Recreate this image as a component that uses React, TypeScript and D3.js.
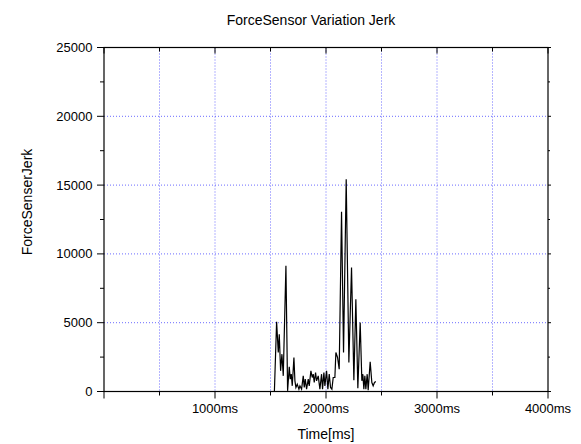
import React from "react";
import * as d3 from "d3";

const times: number[] = [
  1535, 1555, 1570, 1579, 1591, 1603, 1615, 1639, 1654, 1669, 1678, 1687, 1696, 1711, 1720, 1729,
  1741, 1756, 1765, 1780, 1795, 1804, 1813, 1825, 1840, 1849, 1864, 1876, 1885, 1894, 1906, 1915,
  1930, 1945, 1960, 1969, 1981, 1990, 2005, 2017, 2029, 2041, 2053, 2065, 2080, 2089, 2104, 2119,
  2140, 2158, 2182, 2206, 2230, 2251, 2269, 2287, 2308, 2323, 2332, 2341, 2350, 2359, 2371, 2380,
  2398, 2413, 2425, 2437, 2449,
];
const jerk: number[] = [
  0, 5062, 2834, 4166, 1502, 2713, 1138, 9131, 48, 1792, 896, 1259, 412, 2470, 775, 291,
  533, 170, 412, 170, 1138, 291, 896, 170, 896, 412, 1502, 1017, 1259, 654, 1380, 775,
  1138, 170, 1259, 170, 1380, 412, 1502, 170, 1259, 291, 170, 1017, 1017, 2834, 2470, 1622,
  13055, 2834, 15428, 2107, 9010, 823, 6709, 242, 5014, 775, 1259, 170, 1138, 170, 1259, 97,
  2156, 654, 412, 654, 727,
];

const xMajor: number[] = [0, 1000, 2000, 3000, 4000];
const xMinor: number[] = [500, 1500, 2500, 3500];
const xLabels: string[] = ["", "1000ms", "2000ms", "3000ms", "4000ms"];
const yMajor: number[] = [0, 5000, 10000, 15000, 20000, 25000];
const yMinor: number[] = [2500, 7500, 12500, 17500, 22500];
const xGrid: number[] = [500, 1000, 1500, 2000, 2500, 3000, 3500];
const yGrid: number[] = [5000, 10000, 15000, 20000];

const title = "ForceSensor Variation Jerk";
const xTitle = "Time[ms]";
const yTitle = "ForceSenserJerk";

export default function App() {
  const W = 581;
  const H = 444;
  const left = 104;
  const right = 548;
  const top = 47.5;
  const bottom = 391.5;
  const x = d3.scaleLinear().domain([0, 4000]).range([left, right]);
  const y = d3.scaleLinear().domain([0, 25000]).range([bottom, top]);
  const line = d3
    .line<number>()
    .x((_, i) => x(times[i]))
    .y((d) => y(d));
  const font = "'Liberation Sans', Arial, sans-serif";
  const gridStyle = { stroke: "#3a3aff", strokeWidth: 1, strokeDasharray: "1,2", opacity: 0.75 };

  return (
    <svg
      width={W}
      height={H}
      style={{ position: "absolute", left: 0, top: 0, background: "#fff" }}
      fontFamily={font}
    >
      <rect x={0} y={0} width={W} height={H} fill="#fff" />
      {xGrid.map((v) => (
        <line key={"gx" + v} x1={x(v)} x2={x(v)} y1={top} y2={bottom} {...gridStyle} />
      ))}
      {yGrid.map((v) => (
        <line key={"gy" + v} x1={left} x2={right} y1={y(v)} y2={y(v)} {...gridStyle} />
      ))}
      <path d={line(jerk) || ""} fill="none" stroke="#000" strokeWidth={1.2} strokeLinejoin="miter" />
      <rect x={left} y={top} width={right - left} height={bottom - top} fill="none" stroke="#000" strokeWidth={1.2} />
      {/* bottom ticks */}
      {xMajor.map((v) => (
        <line key={"xM" + v} x1={x(v)} x2={x(v)} y1={bottom} y2={bottom + 7} stroke="#000" />
      ))}
      {xMinor.map((v) => (
        <line key={"xm" + v} x1={x(v)} x2={x(v)} y1={bottom} y2={bottom + 4} stroke="#000" />
      ))}
      {/* top ticks inward */}
      {xMajor.map((v) => (
        <line key={"txM" + v} x1={x(v)} x2={x(v)} y1={top} y2={top + 6} stroke="#000" />
      ))}
      {xMinor.map((v) => (
        <line key={"txm" + v} x1={x(v)} x2={x(v)} y1={top} y2={top + 4} stroke="#000" />
      ))}
      {/* left ticks */}
      {yMajor.map((v) => (
        <line key={"yM" + v} x1={left - 7} x2={left} y1={y(v)} y2={y(v)} stroke="#000" />
      ))}
      {yMinor.map((v) => (
        <line key={"ym" + v} x1={left - 4} x2={left} y1={y(v)} y2={y(v)} stroke="#000" />
      ))}
      {/* right ticks */}
      {yMajor.map((v) => (
        <line key={"ryM" + v} x1={right} x2={right + 3} y1={y(v)} y2={y(v)} stroke="#000" />
      ))}
      {yMinor.map((v) => (
        <line key={"rym" + v} x1={right} x2={right + 2} y1={y(v)} y2={y(v)} stroke="#000" />
      ))}
      {xMajor.map((v, i) => (
        <text key={"xl" + v} x={x(v)} y={413} textAnchor="middle" fontSize={13} fill="#000">
          {xLabels[i]}
        </text>
      ))}
      {yMajor.map((v) => (
        <text key={"yl" + v} x={92.5} y={y(v) + 4.5} textAnchor="end" fontSize={13} fill="#000">
          {v}
        </text>
      ))}
      <text x={311} y={25} textAnchor="middle" fontSize={14} fill="#000">
        {title}
      </text>
      <text x={326} y={439} textAnchor="middle" fontSize={14} fill="#000">
        {xTitle}
      </text>
      <text
        x={0}
        y={0}
        transform={`translate(32, 202) rotate(-90)`}
        textAnchor="middle"
        fontSize={14}
        fill="#000"
      >
        {yTitle}
      </text>
    </svg>
  );
}
